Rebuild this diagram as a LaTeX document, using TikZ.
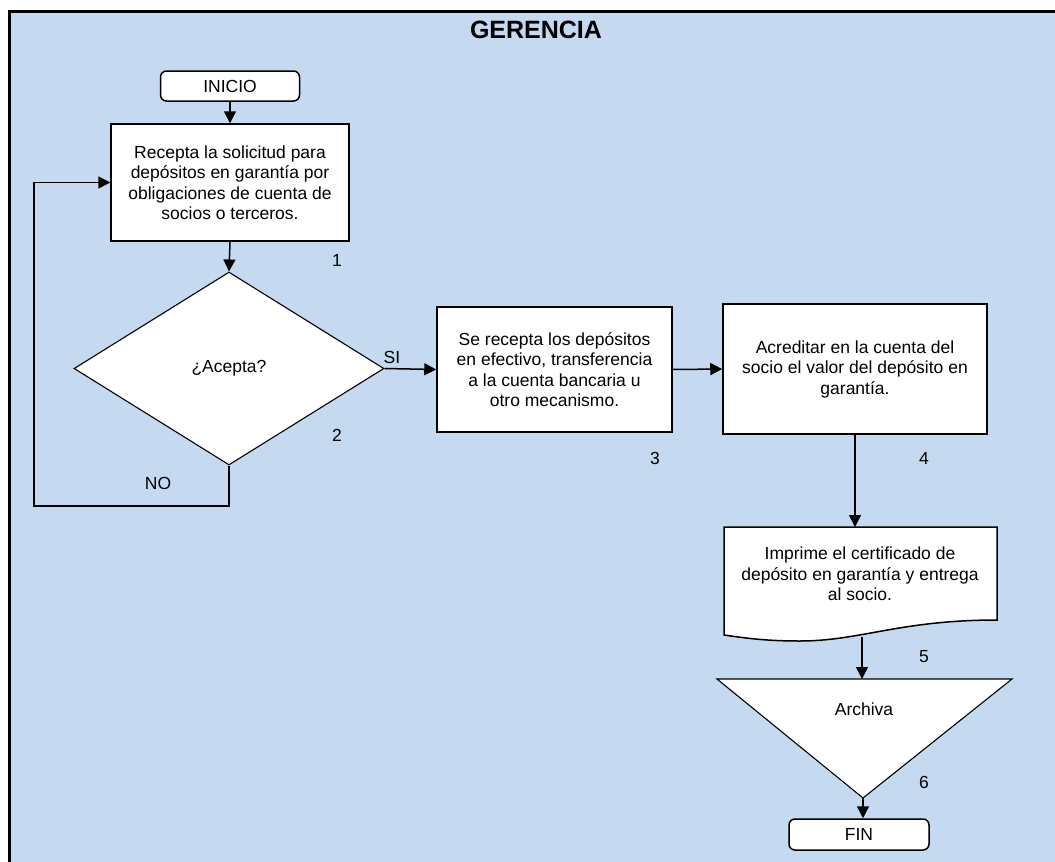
\documentclass[tikz,border=0pt]{standalone}
\usepackage{fontspec}
\setmainfont{Liberation Sans}
\usetikzlibrary{shapes.geometric,arrows.meta}
\definecolor{bgblue}{RGB}{197,217,241}
\begin{document}
\begin{tikzpicture}[x=1pt,y=-1pt,
  box/.style={draw, fill=white, line width=1.5pt, align=center,
    font=\fontsize{17.5}{20.5}\selectfont, inner sep=0pt},
  term/.style={box, rounded corners=6pt},
  arr/.style={line width=1.5pt, -{Triangle[length=12pt,width=12pt]}},
  lbl/.style={font=\fontsize{17.5}{20}\selectfont, inner sep=0pt}]
\useasboundingbox (0,0) rectangle (1055,862);
\fill[white] (0,0) rectangle (1055,862);
\clip (0,0) rectangle (1055,862);
\draw[line width=3pt, fill=bgblue] (9.5,11.3) rectangle (1075,885);

\node[font=\fontsize{25}{28}\selectfont\bfseries] (title) at (536,30) {GERENCIA};

\node[term, minimum width=139pt, minimum height=30pt] (inicio) at (230,86) {INICIO};
\node[box, minimum width=238pt, minimum height=117pt] (b1) at (230,182.5)
  {Recepta la solicitud para\\depósitos en garantía por\\obligaciones de cuenta de\\socios o terceros.};
\node[box, shape=diamond, line width=1.1pt, minimum width=310pt, minimum height=193pt] (dec) at (229,368.5) {¿Acepta?};
\node[box, minimum width=235pt, minimum height=125pt] (b3) at (554.5,369.5)
  {Se recepta los depósitos\\en efectivo, transferencia\\a la cuenta bancaria u\\otro mecanismo.};
\node[box, minimum width=264pt, minimum height=130pt] (b4) at (855,369)
  {Acreditar en la cuenta del\\socio el valor del depósito en\\garantía.};

% document shape
\draw[line width=1.5pt, fill=white] (724,527) -- (997,527) -- (997,620)
  .. controls (900,620) and (860,641) .. (800,641)
  .. controls (765,641) and (745,638) .. (724,635) -- cycle;
\node[lbl, align=center, font=\fontsize{17.5}{20.5}\selectfont] (doc) at (860,574)
  {Imprime el certificado de\\depósito en garantía y entrega\\al socio.};
\coordinate (doctop) at (855,527);
\coordinate (docbot) at (862,637);

% archive triangle
\draw[line width=1.1pt, fill=white] (717,679) -- (1012,679) -- (863,798) -- cycle;
\coordinate (tritop) at (862,679);
\coordinate (tribot) at (863,798);
\node[lbl] (arch) at (864,709) {Archiva};

\node[term, minimum width=140pt, minimum height=31pt] (fin) at (859,834.5) {FIN};

% connectors
\draw[arr] (inicio.south) -- (b1.north);
\draw[arr] (b1.south) -- (dec.north);
\draw[arr] (dec.east) -- (b3.west);
\draw[arr] (b3.east) -- (b4.west);
\draw[arr] (b4.south) -- (doctop);
\draw[arr] (docbot) -- (tritop);
\draw[arr] (tribot) -- (fin.north -| tribot);
\coordinate (nb) at (229,506);
\coordinate (nl) at (34,506);
\draw[arr] (dec.south) -- (nb) -- (nl) |- (b1.west);

% labels
\node[lbl] (si) at (392,357) {SI};
\node[lbl] (no) at (158,483) {NO};
\node[lbl] (n1) at (337,260) {1};
\node[lbl] (n2) at (337,435) {2};
\node[lbl] (n3) at (655,458) {3};
\node[lbl] (n4) at (924,458) {4};
\node[lbl] (n5) at (924,657) {5};
\node[lbl] (n6) at (924,782) {6};
\end{tikzpicture}
\end{document}
